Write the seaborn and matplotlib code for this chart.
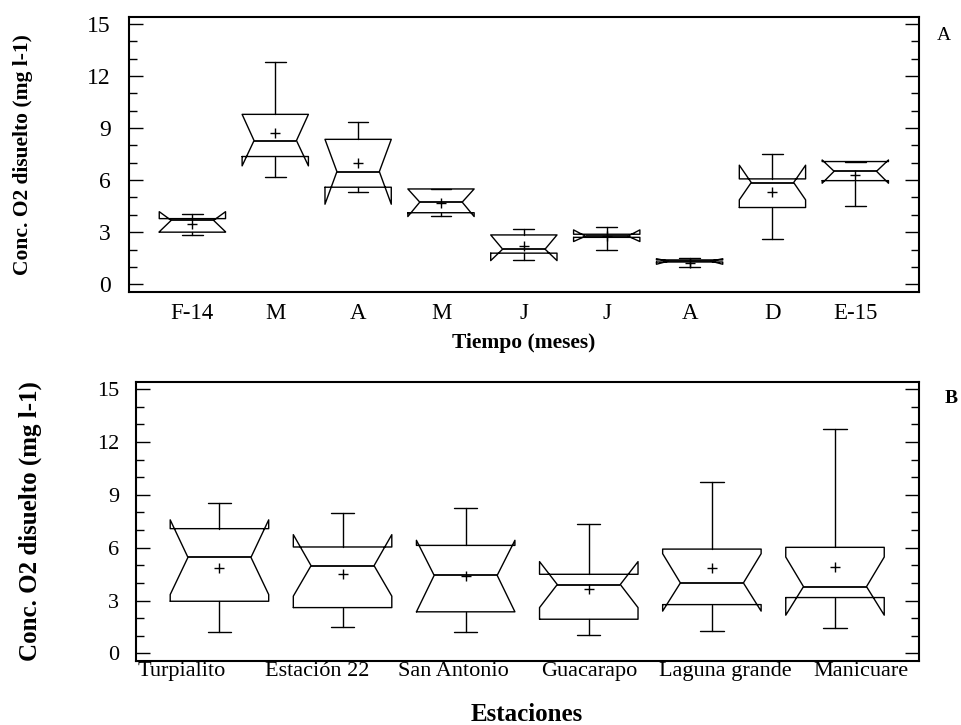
import matplotlib
matplotlib.use("Agg")
import matplotlib.pyplot as plt
from matplotlib.ticker import MultipleLocator
import seaborn as sns
import numpy as np

# ---------------- data ----------------
meses = ["F-14", "M", "A", "M", "J", "J", "A", "D", "E-15"]
mes_whislo = [2.84, 6.18, 5.32, 3.94, 1.40, 1.98, 1.01, 2.63, 4.51]
mes_q1     = [3.00, 7.36, 5.59, 4.12, 1.79, 2.70, 1.28, 4.42, 5.97]
mes_med    = [3.68, 8.28, 6.49, 4.73, 2.02, 2.77, 1.33, 5.86, 6.51]
mes_q3     = [3.78, 9.79, 8.35, 5.49, 2.84, 2.88, 1.40, 6.07, 7.07]
mes_whishi = [4.03, 12.79, 9.37, 5.49, 3.17, 3.29, 1.50, 7.51, 7.07]
mes_cilo   = [3.02, 6.82, 4.61, 3.90, 1.36, 2.46, 1.15, 4.86, 5.82]
mes_cihi   = [4.18, 9.79, 8.35, 5.49, 2.84, 3.13, 1.47, 6.86, 7.16]
mes_mean   = [3.48, 8.74, 7.01, 4.70, 2.21, 2.77, 1.21, 5.34, 6.30]

estaciones = ["Turpialito", "Estación 22", "San Antonio", "Guacarapo",
              "Laguna grande", "Manicuare"]
est_whislo = [1.21, 1.51, 1.21, 1.02, 1.28, 1.45]
est_q1     = [2.96, 2.60, 2.36, 1.94, 2.77, 3.17]
est_med    = [5.45, 4.98, 4.43, 3.91, 4.00, 3.79]
est_q3     = [7.08, 6.04, 6.13, 4.49, 5.92, 6.02]
est_whishi = [8.53, 7.98, 8.28, 7.34, 9.74, 12.75]
est_cilo   = [3.34, 3.25, 2.36, 2.60, 2.40, 2.17]
est_cihi   = [7.58, 6.74, 6.42, 5.21, 5.66, 5.47]
est_mean   = [4.87, 4.53, 4.42, 3.68, 4.87, 4.91]

y_ticks = [0, 3, 6, 9, 12, 15]
ylabel = "Conc. O2 disuelto (mg l-1)"

# ---------------- style ----------------
sns.set_theme(style="white", rc={
    "axes.edgecolor": "black", "text.color": "black",
    "axes.labelcolor": "black", "xtick.color": "black", "ytick.color": "black",
})
plt.rcParams["font.family"] = ["Liberation Serif", "DejaVu Serif"]


def stats_list(labels, wlo, q1, med, q3, whi, cilo, cihi, mean):
    out = []
    for i in range(len(labels)):
        out.append(dict(label=labels[i], whislo=wlo[i], q1=q1[i], med=med[i],
                        q3=q3[i], whishi=whi[i], cilo=cilo[i], cihi=cihi[i],
                        mean=mean[i], fliers=[]))
    return out


def draw(ax, stats, width, capw):
    n = len(stats)
    line = dict(color="black", lw=1.0)
    res = ax.bxp(stats, positions=list(range(n)), widths=width,
                 shownotches=True, showmeans=True, showfliers=False,
                 capwidths=capw, boxprops=line, whiskerprops=line,
                 capprops=line, medianprops=dict(color="black", lw=1.3),
                 meanprops=dict(marker="+", markeredgecolor="black",
                                markersize=7, markeredgewidth=1.0),
                 manage_ticks=False)
    # wider notch waist as in the reference
    for i, box in enumerate(res["boxes"]):
        xd = np.asarray(box.get_xdata(), float)
        narrow = np.isclose(np.abs(xd - i), width * 0.25)
        xd[narrow] = i + np.sign(xd[narrow] - i) * width * 0.32
        box.set_xdata(xd)
    for i, m in enumerate(res["medians"]):
        m.set_xdata([i - width * 0.32, i + width * 0.32])
    return res


def style_axes(ax, tick_fs, pad):
    ax.set_ylim(-0.43, 15.42)
    ax.set_yticks(y_ticks)
    ax.yaxis.set_minor_locator(MultipleLocator(1))
    ax.tick_params(axis="y", which="major", direction="in", length=10,
                   width=1, left=True, right=True, labelright=False,
                   labelsize=tick_fs, pad=pad)
    ax.tick_params(axis="y", which="minor", direction="in", length=5.5,
                   width=1, left=True, right=True)
    for s in ax.spines.values():
        s.set_linewidth(1.5)
        s.set_color("black")


fig = plt.figure(figsize=(9.62, 7.25), dpi=100)
ax1 = fig.add_axes([0.1341, 0.5977, 0.8209, 0.3793])
ax2 = fig.add_axes([0.1411, 0.0883, 0.8139, 0.3852])

# ---- panel A ----
draw(ax1, stats_list(meses, mes_whislo, mes_q1, mes_med, mes_q3, mes_whishi,
                     mes_cilo, mes_cihi, mes_mean), 0.8, 0.25)
ax1.set_xlim(-0.765, len(meses) - 1 + 0.765)
ax1.set_xticks(range(len(meses)))
ax1.set_xticklabels(meses)
ax1.tick_params(axis="x", length=0, labelsize=16.5, pad=8)
style_axes(ax1, 17, 13)
ax1.set_ylabel(ylabel, fontsize=15.5, fontweight="bold")
ax1.yaxis.set_label_coords(-0.121, 0.5)
ax1.set_xlabel("Tiempo (meses)", fontsize=15.5, fontweight="bold")
ax1.xaxis.label.set_verticalalignment("baseline")
ax1.xaxis.set_label_coords(0.5, (291.7 - 348.5) / 275.0)

# ---- panel B ----
draw(ax2, stats_list(estaciones, est_whislo, est_q1, est_med, est_q3,
                     est_whishi, est_cilo, est_cihi, est_mean), 0.8, 0.19)
ax2.set_xlim(-0.68, len(estaciones) - 1 + 0.68)
lab_pos = np.linspace(-0.31, 5.21, len(estaciones))
ax2.set_xticks(lab_pos)
ax2.set_xticklabels(estaciones)
ax2.tick_params(axis="x", length=0, labelsize=16, pad=1)
style_axes(ax2, 16, 12)
ax2.set_ylabel(ylabel, fontsize=18, fontweight="bold")
ax2.yaxis.set_label_coords(-0.120, 0.5)
ax2.set_xlabel("Estaciones", fontsize=18, fontweight="bold")
ax2.xaxis.label.set_verticalalignment("baseline")
ax2.xaxis.set_label_coords(0.5, (661.0 - 721.0) / 279.3)

fig.text(937 / 962, 1 - 40 / 725, "A", fontsize=14, ha="left", va="baseline")
fig.text(945 / 962, 1 - 403 / 725, "B", fontsize=14, fontweight="bold",
         ha="left", va="baseline")

fig.savefig("out.png", dpi=100)
